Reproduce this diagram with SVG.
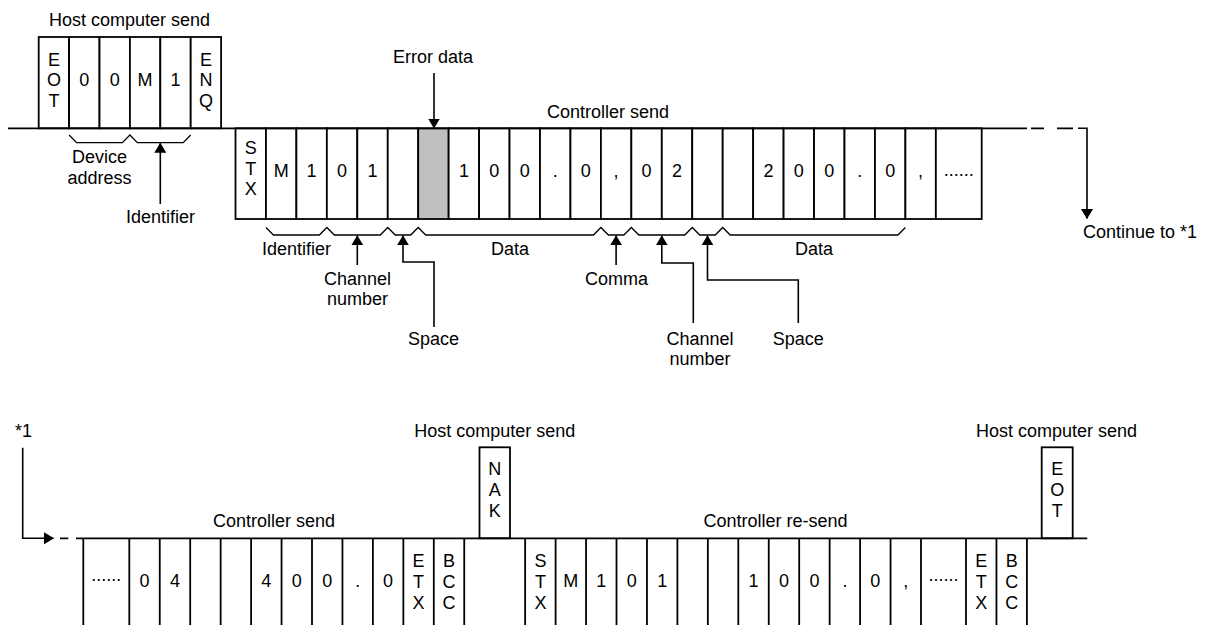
<svg xmlns="http://www.w3.org/2000/svg" width="1206" height="625" viewBox="0 0 1206 625">
  <style>
    .t { font-family: "Liberation Sans", Arial, sans-serif; font-size: 18px; fill: #000; }
    .m { text-anchor: middle; }
    .cell { fill: #fff; stroke: #000; stroke-width: 1.8; }
    .err { fill: #c0c0c0; stroke: #000; stroke-width: 1.8; }
    .ln { fill: none; stroke: #000; stroke-width: 1.8; }
    .arr { fill: none; stroke: #000; stroke-width: 1.6; marker-end: url(#ah); }
    .brace { fill: none; stroke: #000; stroke-width: 1.3; }
  </style>
  <defs>
    <marker id="ah" viewBox="0 0 10 12" refX="9.5" refY="6" markerWidth="10" markerHeight="12" markerUnits="userSpaceOnUse" orient="auto">
      <path d="M0,0 L10,6 L0,12 z" fill="#000"/>
    </marker>
  </defs>
  <rect width="1206" height="625" fill="#fff"/>

  <!-- Line 1: host computer sends the request -->
  <g id="host-send-request">
    <text class="t m" x="129.5" y="26">Host computer send</text>
    <rect class="cell" x="38.7" y="37" width="30.4" height="91.3"/>
    <rect class="cell" x="69.1" y="37" width="30.4" height="91.3"/>
    <rect class="cell" x="99.5" y="37" width="30.4" height="91.3"/>
    <rect class="cell" x="129.9" y="37" width="30.4" height="91.3"/>
    <rect class="cell" x="160.3" y="37" width="30.4" height="91.3"/>
    <rect class="cell" x="190.7" y="37" width="30.4" height="91.3"/>
    <text class="t m"><tspan x="53.9" y="65.5">E</tspan><tspan x="53.9" y="86.3">O</tspan><tspan x="53.9" y="107.1">T</tspan></text>
    <text class="t m" x="84.3" y="86">0</text>
    <text class="t m" x="114.7" y="86">0</text>
    <text class="t m" x="145.1" y="86">M</text>
    <text class="t m" x="175.5" y="86">1</text>
    <text class="t m"><tspan x="205.9" y="65.5">E</tspan><tspan x="205.9" y="86.3">N</tspan><tspan x="205.9" y="107.1">Q</tspan></text>
  </g>

  <!-- Line 1: controller reply containing an error -->
  <g id="controller-send-1">
    <text class="t m" x="608" y="117.5">Controller send</text>
    <rect class="cell" x="235.5" y="128.3" width="30.45" height="90.7"/>
    <rect class="cell" x="265.95" y="128.3" width="30.45" height="90.7"/>
    <rect class="cell" x="296.4" y="128.3" width="30.45" height="90.7"/>
    <rect class="cell" x="326.85" y="128.3" width="30.45" height="90.7"/>
    <rect class="cell" x="357.3" y="128.3" width="30.45" height="90.7"/>
    <rect class="cell" x="387.75" y="128.3" width="30.45" height="90.7"/>
    <rect class="err" x="418.2" y="128.3" width="30.45" height="90.7"/>
    <rect class="cell" x="448.65" y="128.3" width="30.45" height="90.7"/>
    <rect class="cell" x="479.1" y="128.3" width="30.45" height="90.7"/>
    <rect class="cell" x="509.55" y="128.3" width="30.45" height="90.7"/>
    <rect class="cell" x="540" y="128.3" width="30.45" height="90.7"/>
    <rect class="cell" x="570.45" y="128.3" width="30.45" height="90.7"/>
    <rect class="cell" x="600.9" y="128.3" width="30.45" height="90.7"/>
    <rect class="cell" x="631.35" y="128.3" width="30.45" height="90.7"/>
    <rect class="cell" x="661.8" y="128.3" width="30.45" height="90.7"/>
    <rect class="cell" x="692.25" y="128.3" width="30.45" height="90.7"/>
    <rect class="cell" x="722.7" y="128.3" width="30.45" height="90.7"/>
    <rect class="cell" x="753.15" y="128.3" width="30.45" height="90.7"/>
    <rect class="cell" x="783.6" y="128.3" width="30.45" height="90.7"/>
    <rect class="cell" x="814.05" y="128.3" width="30.45" height="90.7"/>
    <rect class="cell" x="844.5" y="128.3" width="30.45" height="90.7"/>
    <rect class="cell" x="874.95" y="128.3" width="30.45" height="90.7"/>
    <rect class="cell" x="905.4" y="128.3" width="30.45" height="90.7"/>
    <rect class="cell" x="935.85" y="128.3" width="45.85" height="90.7"/>
    <text class="t m"><tspan x="250.7" y="154">S</tspan><tspan x="250.7" y="174.5">T</tspan><tspan x="250.7" y="195">X</tspan></text>
    <text class="t m" x="281.2" y="177.3">M</text>
    <text class="t m" x="311.6" y="177.3">1</text>
    <text class="t m" x="342.1" y="177.3">0</text>
    <text class="t m" x="372.5" y="177.3">1</text>
    <text class="t m" x="463.9" y="177.3">1</text>
    <text class="t m" x="494.3" y="177.3">0</text>
    <text class="t m" x="524.8" y="177.3">0</text>
    <text class="t m" x="555.2" y="177.3">.</text>
    <text class="t m" x="585.7" y="177.3">0</text>
    <text class="t m" x="616.1" y="177.3">,</text>
    <text class="t m" x="646.6" y="177.3">0</text>
    <text class="t m" x="677" y="177.3">2</text>
    <text class="t m" x="768.4" y="177.3">2</text>
    <text class="t m" x="798.8" y="177.3">0</text>
    <text class="t m" x="829.3" y="177.3">0</text>
    <text class="t m" x="859.7" y="177.3">.</text>
    <text class="t m" x="890.2" y="177.3">0</text>
    <text class="t m" x="920.6" y="177.3">,</text>
    <text class="t m" x="958.8" y="175.5">......</text>
  </g>

  <!-- Line 2: remainder of the first reply -->
  <g id="controller-send-2">
    <text class="t m" x="274" y="527.3">Controller send</text>
    <path class="ln" d="M83.3,538.3V626 M129.3,538.3V626 M159.75,538.3V626 M190.2,538.3V626 M220.65,538.3V626 M251.1,538.3V626 M281.55,538.3V626 M312,538.3V626 M342.45,538.3V626 M372.9,538.3V626 M403.35,538.3V626 M433.8,538.3V626 M464.25,538.3V626"/>
    <text class="t m" x="106.3" y="580.5">......</text>
    <text class="t m" x="144.5" y="587">0</text>
    <text class="t m" x="175" y="587">4</text>
    <text class="t m" x="266.3" y="587">4</text>
    <text class="t m" x="296.8" y="587">0</text>
    <text class="t m" x="327.2" y="587">0</text>
    <text class="t m" x="357.7" y="587">.</text>
    <text class="t m" x="388.1" y="587">0</text>
    <text class="t m"><tspan x="418.6" y="567">E</tspan><tspan x="418.6" y="588">T</tspan><tspan x="418.6" y="609">X</tspan></text>
    <text class="t m"><tspan x="449" y="567">B</tspan><tspan x="449" y="588">C</tspan><tspan x="449" y="609">C</tspan></text>
  </g>

  <!-- Line 2: host rejects with NAK -->
  <g id="host-send-nak">
    <text class="t m" x="494.7" y="436.7">Host computer send</text>
    <rect class="cell" x="479.5" y="447.3" width="30.5" height="91"/>
    <text class="t m"><tspan x="494.75" y="475">N</tspan><tspan x="494.75" y="496">A</tspan><tspan x="494.75" y="517">K</tspan></text>
  </g>

  <!-- Line 2: controller re-sends the frame -->
  <g id="controller-resend">
    <text class="t m" x="775.5" y="527.3">Controller re-send</text>
    <path class="ln" d="M525.15,538.3V626 M555.6,538.3V626 M586.05,538.3V626 M616.5,538.3V626 M646.95,538.3V626 M677.4,538.3V626 M707.85,538.3V626 M738.3,538.3V626 M768.75,538.3V626 M799.2,538.3V626 M829.65,538.3V626 M860.1,538.3V626 M890.55,538.3V626 M921,538.3V626 M966,538.3V626 M996.45,538.3V626 M1026.9,538.3V626"/>
    <text class="t m"><tspan x="540.4" y="567">S</tspan><tspan x="540.4" y="588">T</tspan><tspan x="540.4" y="609">X</tspan></text>
    <text class="t m" x="570.8" y="587">M</text>
    <text class="t m" x="601.3" y="587">1</text>
    <text class="t m" x="631.7" y="587">0</text>
    <text class="t m" x="662.2" y="587">1</text>
    <text class="t m" x="753.5" y="587">1</text>
    <text class="t m" x="784" y="587">0</text>
    <text class="t m" x="814.4" y="587">0</text>
    <text class="t m" x="844.9" y="587">.</text>
    <text class="t m" x="875.3" y="587">0</text>
    <text class="t m" x="905.8" y="587">,</text>
    <text class="t m" x="943.5" y="580.5">......</text>
    <text class="t m"><tspan x="981.2" y="567">E</tspan><tspan x="981.2" y="588">T</tspan><tspan x="981.2" y="609">X</tspan></text>
    <text class="t m"><tspan x="1011.7" y="567">B</tspan><tspan x="1011.7" y="588">C</tspan><tspan x="1011.7" y="609">C</tspan></text>
  </g>

  <!-- Line 2: host ends with EOT -->
  <g id="host-send-eot">
    <text class="t m" x="1056.5" y="436.7">Host computer send</text>
    <rect class="cell" x="1041.7" y="447.3" width="31" height="91"/>
    <text class="t m"><tspan x="1057.2" y="475">E</tspan><tspan x="1057.2" y="496">O</tspan><tspan x="1057.2" y="517">T</tspan></text>
  </g>

  <!-- Field labels -->
  <g id="labels">
    <text class="t m" x="433" y="63">Error data</text>
    <text class="t m"><tspan x="99.5" y="163.3">Device</tspan><tspan x="99.5" y="184">address</tspan></text>
    <text class="t m" x="160.5" y="223.3">Identifier</text>
    <text class="t m" x="296.5" y="255">Identifier</text>
    <text class="t m"><tspan x="357.5" y="285">Channel</tspan><tspan x="357.5" y="305">number</tspan></text>
    <text class="t m" x="433.5" y="345">Space</text>
    <text class="t m" x="510" y="255">Data</text>
    <text class="t m" x="616.5" y="285">Comma</text>
    <text class="t m"><tspan x="700" y="345">Channel</tspan><tspan x="700" y="364.5">number</tspan></text>
    <text class="t m" x="798.3" y="345">Space</text>
    <text class="t m" x="814" y="255">Data</text>
    <text class="t" x="1083" y="238">Continue to *1</text>
    <text class="t" x="15" y="436.7">*1</text>
  </g>

  <!-- Transmission lines, braces and pointers -->
  <g id="connectors">
    <path class="ln" d="M8,128.3H1027"/>
    <path class="ln" d="M1031,128.3H1044 M1057,128.3H1073"/>
    <path class="arr" d="M1078,128.3H1087V218.5"/>
    <path class="arr" d="M22.7,447.7V538.3H53.5"/>
    <path class="ln" d="M60,538.3H68.3 M76,538.3H83.3"/>
    <path class="ln" d="M83.3,538.3H1087.3"/>

    <path class="brace" d="M69.1,135 L76.6,142.7 L122.4,142.7 L129.9,135 L137.4,142.7 L183.2,142.7 L190.7,135"/>
    <path class="brace" d="M265.95,227.5 L273.45,235 L319.35,235 L326.85,227.5 L334.35,235 L380.25,235 L387.75,227.5 L395.25,235 L410.7,235 L418.2,227.5 L425.7,235 L593.4,235 L600.9,227.5 L608.4,235 L623.85,235 L631.35,227.5 L638.85,235 L684.75,235 L692.25,227.5 L699.75,235 L715.2,235 L722.7,227.5 L730.2,235 L897.9,235 L905.4,227.5"/>

    <path class="arr" d="M434,73V128"/>
    <path class="arr" d="M160.3,204V143.2"/>
    <path class="arr" d="M357.3,265V235.8"/>
    <path class="arr" d="M434,327V262H403V235.8"/>
    <path class="arr" d="M616.1,265V235.8"/>
    <path class="arr" d="M693.3,323V263H661.8V235.8"/>
    <path class="arr" d="M798.3,323V280H707.5V235.8"/>
  </g>
</svg>
